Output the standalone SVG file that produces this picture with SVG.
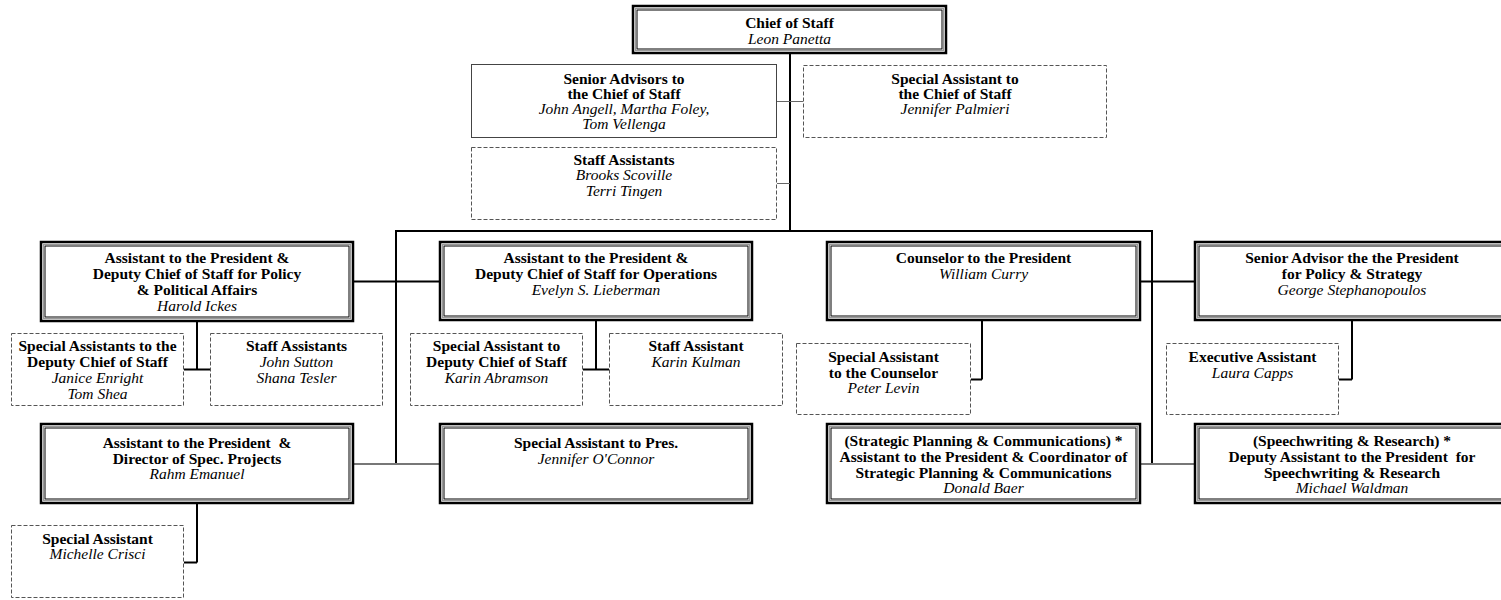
<svg xmlns="http://www.w3.org/2000/svg" width="1501" height="600" viewBox="0 0 1501 600">
<style>
text{font-family:"Liberation Serif","Times New Roman",serif;font-size:15.5px;text-anchor:middle;fill:#000;white-space:pre}
.b{font-weight:bold}
.i{font-style:italic}
.o{fill:#fff;stroke:#000;stroke-width:2.5}
.m{fill:none;stroke:#999;stroke-width:1}
.n{fill:none;stroke:#000;stroke-width:1}
.s{fill:#fff;stroke:#444;stroke-width:1}
.d{fill:#fff;stroke:#555;stroke-width:1;stroke-dasharray:4 2}
.k{fill:none;stroke:#000;stroke-width:2}
.g{fill:none;stroke:#666;stroke-width:1}
.g2{fill:none;stroke:#777;stroke-width:2}
</style>
<defs>
</defs>
<rect width="1501" height="600" fill="#fff"/>
<g id="connectors">
<path class="k" d="M790 53V231M396 231H1152M396 230V464M1152 230V464"/>
<path class="g" d="M777 101.5H803M777 183.5H790"/>
<path class="k" stroke-width="1.5" d="M353 281.5H440M1140 281.5H1195"/>
<path class="g2" d="M353 464H440M1140 464H1195"/>
<path class="k" d="M197 321V369.5M184 369.5H210M596 320V369.5M583 369.5H609M982 320V379.5M971 379.5H982M1352 320V379.5M1339 379.5H1352M197 503V562.5M184 562.5H197"/>
</g>
<g id="chief">
<rect class="o" x="633" y="6" width="313" height="47"/><rect class="m" x="635.5" y="8.5" width="308" height="42"/><rect class="n" x="637" y="10" width="305" height="39"/>
<text class="b" x="789.5" y="27.5">Chief of Staff</text><text class="i" x="789.5" y="43.5">Leon Panetta</text>
</g>
<g id="senior-advisors">
<rect class="s" x="471.5" y="64.5" width="305" height="73"/>
<text class="b" x="624" y="83.5">Senior Advisors to</text><text class="b" x="624" y="98.5">the Chief of Staff</text><text class="i" x="624" y="113.5">John Angell, Martha Foley,</text><text class="i" x="624" y="128.5">Tom Vellenga</text>
</g>
<g id="special-assistant-cos">
<rect class="d" x="803.5" y="65.5" width="303" height="72"/>
<text class="b" x="955" y="83.5">Special Assistant to</text><text class="b" x="955" y="98.5">the Chief of Staff</text><text class="i" x="955" y="113.5">Jennifer Palmieri</text>
</g>
<g id="staff-assistants-cos">
<rect class="d" x="471.5" y="147.5" width="305" height="72"/>
<text class="b" x="624" y="164.5">Staff Assistants</text><text class="i" x="624" y="180">Brooks Scoville</text><text class="i" x="624" y="195.5">Terri Tingen</text>
</g>
<g id="ickes">
<rect class="o" x="41" y="242" width="312" height="79"/><rect class="m" x="43.5" y="244.5" width="307" height="74"/><rect class="n" x="45" y="246" width="304" height="71"/>
<text class="b" x="197" y="262.5">Assistant to the President &amp;</text><text class="b" x="197" y="278.5">Deputy Chief of Staff for Policy</text><text class="b" x="197" y="294.5">&amp; Political Affairs</text><text class="i" x="197" y="310.5">Harold Ickes</text>
</g>
<g id="lieberman">
<rect class="o" x="440" y="242" width="312" height="78"/><rect class="m" x="442.5" y="244.5" width="307" height="73"/><rect class="n" x="444" y="246" width="304" height="70"/>
<text class="b" x="596" y="262.5">Assistant to the President &amp;</text><text class="b" x="596" y="278.5">Deputy Chief of Staff for Operations</text><text class="i" x="596" y="295">Evelyn S. Lieberman</text>
</g>
<g id="curry">
<rect class="o" x="827" y="242" width="313" height="78"/><rect class="m" x="829.5" y="244.5" width="308" height="73"/><rect class="n" x="831" y="246" width="305" height="70"/>
<text class="b" x="983.5" y="262.5">Counselor to the President</text><text class="i" x="983.5" y="278.5">William Curry</text>
</g>
<g id="stephanopoulos">
<rect class="o" x="1195" y="242" width="314" height="78"/><rect class="m" x="1197.5" y="244.5" width="309" height="73"/><rect class="n" x="1199" y="246" width="306" height="70"/>
<text class="b" x="1352" y="262.5">Senior Advisor the the President</text><text class="b" x="1352" y="278.5">for Policy &amp; Strategy</text><text class="i" x="1352" y="295">George Stephanopoulos</text>
</g>
<g id="special-assistants-dcos">
<rect class="d" x="11.5" y="333.5" width="172" height="72"/>
<text class="b" x="97.5" y="350.5">Special Assistants to the</text><text class="b" x="97.5" y="366.5">Deputy Chief of Staff</text><text class="i" x="97.5" y="382.5">Janice Enright</text><text class="i" x="97.5" y="398.5">Tom Shea</text>
</g>
<g id="staff-assistants-dcos">
<rect class="d" x="210.5" y="333.5" width="172" height="72"/>
<text class="b" x="296.5" y="350.5">Staff Assistants</text><text class="i" x="296.5" y="366.5">John Sutton</text><text class="i" x="296.5" y="382.5">Shana Tesler</text>
</g>
<g id="abramson">
<rect class="d" x="410.5" y="333.5" width="172" height="72"/>
<text class="b" x="496.5" y="350.5">Special Assistant to</text><text class="b" x="496.5" y="366.5">Deputy Chief of Staff</text><text class="i" x="496.5" y="382.5">Karin Abramson</text>
</g>
<g id="kulman">
<rect class="d" x="609.5" y="333.5" width="173" height="72"/>
<text class="b" x="696" y="350.5">Staff Assistant</text><text class="i" x="696" y="366.5">Karin Kulman</text>
</g>
<g id="levin">
<rect class="d" x="796.5" y="343.5" width="174" height="71"/>
<text class="b" x="883.5" y="361.5">Special Assistant</text><text class="b" x="883.5" y="377.5">to the Counselor</text><text class="i" x="883.5" y="392.5">Peter Levin</text>
</g>
<g id="capps">
<rect class="d" x="1166.5" y="343.5" width="172" height="71"/>
<text class="b" x="1252.5" y="361.5">Executive Assistant</text><text class="i" x="1252.5" y="377.5">Laura Capps</text>
</g>
<g id="emanuel">
<rect class="o" x="41" y="424" width="312" height="79"/><rect class="m" x="43.5" y="426.5" width="307" height="74"/><rect class="n" x="45" y="428" width="304" height="71"/>
<text class="b" x="197" y="447.5">Assistant to the President  &amp;</text><text class="b" x="197" y="463.5">Director of Spec. Projects</text><text class="i" x="197" y="478.5">Rahm Emanuel</text>
</g>
<g id="oconnor">
<rect class="o" x="440" y="424" width="312" height="79"/><rect class="m" x="442.5" y="426.5" width="307" height="74"/><rect class="n" x="444" y="428" width="304" height="71"/>
<text class="b" x="596" y="447.5">Special Assistant to Pres.</text><text class="i" x="596" y="463.5">Jennifer O'Connor</text>
</g>
<g id="crisci">
<rect class="d" x="11.5" y="525.5" width="172" height="72"/>
<text class="b" x="97.5" y="543.5">Special Assistant</text><text class="i" x="97.5" y="558.5">Michelle Crisci</text>
</g>
<g id="baer">
<rect class="o" x="827" y="424" width="313" height="79"/><rect class="m" x="829.5" y="426.5" width="308" height="74"/><rect class="n" x="831" y="428" width="305" height="71"/>
<text class="b" x="983.5" y="445.5">(Strategic Planning &amp; Communications) *</text><text class="b" x="983.5" y="461.5">Assistant to the President &amp; Coordinator of</text><text class="b" x="983.5" y="477.5">Strategic Planning &amp; Communications</text><text class="i" x="983.5" y="492.5">Donald Baer</text>
</g>
<g id="waldman">
<rect class="o" x="1195" y="424" width="314" height="79"/><rect class="m" x="1197.5" y="426.5" width="309" height="74"/><rect class="n" x="1199" y="428" width="306" height="71"/>
<text class="b" x="1352" y="445.5">(Speechwriting &amp; Research) *</text><text class="b" x="1352" y="461.5">Deputy Assistant to the President  for</text><text class="b" x="1352" y="477.5">Speechwriting &amp; Research</text><text class="i" x="1352" y="492.5">Michael Waldman</text>
</g>
</svg>
